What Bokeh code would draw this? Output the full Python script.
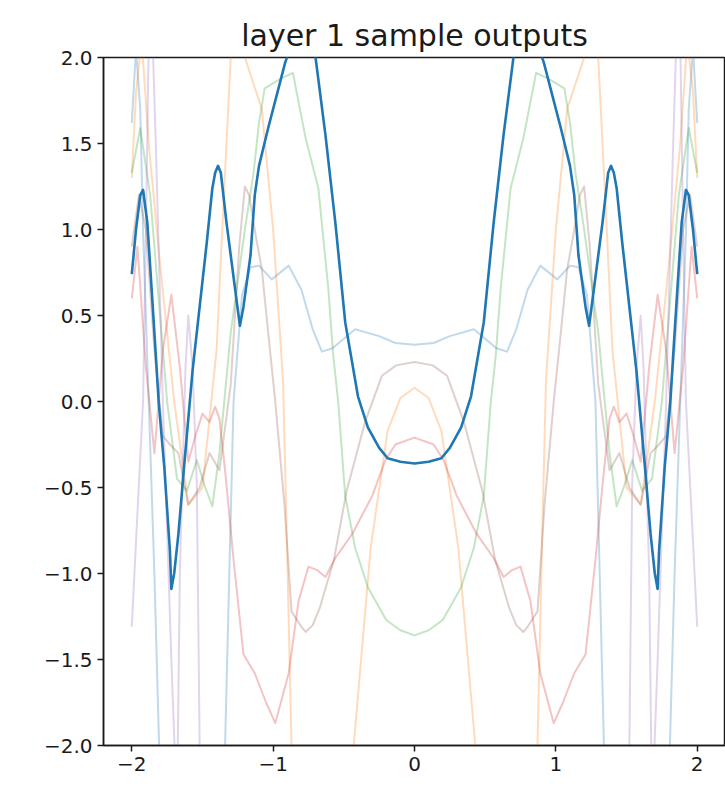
from bokeh.plotting import figure
from bokeh.models import Range1d, FixedTicker
from bokeh.embed import file_html
from bokeh.resources import INLINE

# ---- data ----
TITLE = "layer 1 sample outputs"
X_TICKS = [-2, -1, 0, 1, 2]
X_LABELS = ["\u22122", "\u22121", "0", "1", "2"]
Y_TICKS = [-2.0, -1.5, -1.0, -0.5, 0.0, 0.5, 1.0, 1.5, 2.0]
Y_LABELS = ["\u22122.0", "\u22121.5", "\u22121.0", "\u22120.5", "0.0", "0.5", "1.0", "1.5", "2.0"]

# highlighted sample (bold blue)
main_x = [-2.0, -1.97, -1.94, -1.92, -1.89, -1.86, -1.83, -1.81, -1.77, -1.73, -1.72, -1.70, -1.67, -1.63, -1.60,
          -1.57, -1.52, -1.47, -1.43, -1.41, -1.39, -1.37, -1.33, -1.27, -1.235, -1.21, -1.16, -1.13, -1.1, -1.035,
          -0.975, -0.915, -0.86, -0.8, -0.74, -0.7, -0.63, -0.56, -0.49, -0.4, -0.33, -0.25, -0.19, -0.1, 0.0,
          0.1, 0.19, 0.25, 0.33, 0.4, 0.49, 0.56, 0.63, 0.7, 0.74, 0.8, 0.86, 0.915, 0.975, 1.035, 1.1, 1.13, 1.16,
          1.21, 1.235, 1.27, 1.33, 1.37, 1.39, 1.41, 1.43, 1.47, 1.52, 1.57, 1.60, 1.63, 1.67, 1.70, 1.72, 1.73,
          1.77, 1.81, 1.83, 1.86, 1.89, 1.92, 1.94, 1.97, 2.0]
main_y = [0.74, 1.0, 1.2, 1.23, 1.04, 0.66, 0.27, 0.0, -0.38, -0.87, -1.09, -1.0, -0.77, -0.38, -0.1,
          0.18, 0.55, 0.92, 1.24, 1.33, 1.37, 1.33, 1.04, 0.66, 0.44, 0.55, 0.85, 1.2, 1.37, 1.59,
          1.78, 1.97, 2.1, 2.16, 2.1, 2.0, 1.55, 1.04, 0.46, 0.03, -0.15, -0.27, -0.33, -0.35, -0.36,
          -0.35, -0.33, -0.27, -0.15, 0.03, 0.46, 1.04, 1.55, 2.0, 2.1, 2.16, 2.1, 1.97, 1.78, 1.59, 1.37, 1.2, 0.85,
          0.55, 0.44, 0.66, 1.04, 1.33, 1.37, 1.33, 1.24, 0.92, 0.55, 0.18, -0.1, -0.38, -0.77, -1.0, -1.09, -0.87,
          -0.38, 0.0, 0.27, 0.66, 1.04, 1.23, 1.2, 1.0, 0.74]

# faint samples
blue_x = [-2.0, -1.97, -1.94, -1.92, -1.88, -1.84, -1.8, -1.6, -1.42, -1.36, -1.34, -1.31, -1.28, -1.22, -1.16,
          -1.1, -1.01, -0.89, -0.8, -0.72, -0.655, -0.58, -0.42, -0.25, -0.135, 0.0, 0.135, 0.25, 0.42, 0.58,
          0.655, 0.72, 0.8, 0.89, 1.01, 1.1, 1.16, 1.22, 1.28, 1.31, 1.34, 1.36, 1.42, 1.6, 1.8, 1.84, 1.88, 1.92,
          1.94, 1.97, 2.0]
blue_y = [1.62, 2.05, 1.7, 0.98, 0.0, -1.0, -2.2, -3.0, -3.0, -2.4, -2.0, -1.0, 0.0, 0.62, 0.78,
          0.79, 0.71, 0.79, 0.65, 0.42, 0.29, 0.31, 0.42, 0.38, 0.34, 0.33, 0.34, 0.38, 0.42, 0.31,
          0.29, 0.42, 0.65, 0.79, 0.71, 0.79, 0.78, 0.62, 0.0, -1.0, -2.0, -2.4, -3.0, -3.0, -2.2, -1.0, 0.0, 0.98,
          1.7, 2.05, 1.62]

orange_x = [-2.0, -1.97, -1.93, -1.88, -1.8, -1.7, -1.6, -1.5, -1.45, -1.4, -1.36, -1.3, -1.25, -1.2, -1.08,
            -1.0, -0.93, -0.9, -0.87, -0.8, -0.7, -0.55, -0.43, -0.31, -0.19, -0.1, 0.0,
            0.1, 0.19, 0.31, 0.43, 0.55, 0.7, 0.8, 0.87, 0.9, 0.93, 1.0, 1.08, 1.2, 1.25, 1.3, 1.36, 1.4, 1.45,
            1.5, 1.6, 1.7, 1.8, 1.88, 1.93, 1.97, 2.0]
orange_y = [1.3, 1.8, 2.1, 1.5, 0.8, 0.0, -0.6, -0.5, -0.1, 0.3, 1.0, 2.0, 2.25, 2.0, 1.7,
            1.0, 0.12, -0.9, -2.0, -2.7, -3.3, -3.0, -2.0, -0.85, -0.17, 0.02, 0.08,
            0.02, -0.17, -0.85, -2.0, -3.0, -3.3, -2.7, -2.0, -0.9, 0.12, 1.0, 1.7, 2.0, 2.25, 2.0, 1.0, 0.3, -0.1,
            -0.5, -0.6, 0.0, 0.8, 1.5, 2.1, 1.8, 1.3]

green_x = [-2.0, -1.94, -1.87, -1.8, -1.75, -1.68, -1.61, -1.54, -1.48, -1.43, -1.38, -1.3, -1.2, -1.14, -1.1,
           -1.06, -0.94, -0.86, -0.77, -0.68, -0.61, -0.575, -0.54, -0.49, -0.42, -0.33, -0.2, -0.1, 0.0,
           0.1, 0.2, 0.33, 0.42, 0.49, 0.54, 0.575, 0.61, 0.68, 0.77, 0.86, 0.94, 1.06, 1.1, 1.14, 1.2, 1.3, 1.38,
           1.43, 1.48, 1.54, 1.61, 1.68, 1.75, 1.8, 1.87, 1.94, 2.0]
green_y = [1.33, 1.59, 1.2, 0.5, 0.0, -0.45, -0.52, -0.34, -0.5, -0.61, -0.3, 0.4, 1.0, 1.32, 1.62,
           1.82, 1.88, 1.91, 1.53, 1.24, 0.66, 0.27, 0.0, -0.55, -0.85, -1.08, -1.27, -1.33, -1.36,
           -1.33, -1.27, -1.08, -0.85, -0.55, 0.0, 0.27, 0.66, 1.24, 1.53, 1.91, 1.88, 1.82, 1.62, 1.32, 1.0, 0.4, -0.3,
           -0.61, -0.5, -0.34, -0.52, -0.45, 0.0, 0.5, 1.2, 1.59, 1.33]

red_x = [-2.0, -1.96, -1.9, -1.84, -1.78, -1.72, -1.66, -1.6, -1.55, -1.5, -1.45, -1.41, -1.38, -1.34, -1.28,
         -1.21, -1.13, -1.05, -0.985, -0.89, -0.82, -0.75, -0.69, -0.63, -0.56, -0.44, -0.3, -0.205, -0.135, 0.0,
         0.135, 0.205, 0.3, 0.44, 0.56, 0.63, 0.69, 0.75, 0.82, 0.89, 0.985, 1.05, 1.13, 1.21, 1.28, 1.34, 1.38,
         1.41, 1.45, 1.5, 1.55, 1.6, 1.66, 1.72, 1.78, 1.84, 1.9, 1.96, 2.0]
red_y = [0.6, 0.9, 0.2, -0.3, 0.3, 0.62, 0.2, -0.35, -0.2, -0.07, -0.12, -0.03, -0.1, -0.4, -0.92,
         -1.47, -1.58, -1.75, -1.87, -1.58, -1.16, -0.96, -0.98, -1.02, -0.91, -0.77, -0.55, -0.34, -0.25, -0.21,
         -0.25, -0.34, -0.55, -0.77, -0.91, -1.02, -0.98, -0.96, -1.16, -1.58, -1.87, -1.75, -1.58, -1.47, -0.92, -0.4, -0.1,
         -0.03, -0.12, -0.07, -0.2, -0.35, 0.2, 0.62, 0.3, -0.3, 0.2, 0.9, 0.6]

purple_x = [-2.0, -1.96, -1.92, -1.9, -1.88, -1.86, -1.83, -1.78, -1.72, -1.68, -1.66, -1.62, -1.6, -1.57, -1.54,
            -1.52, -1.45, -1.0, -0.5, 0.0, 0.5, 1.0, 1.45, 1.52, 1.54, 1.57, 1.6, 1.62, 1.66, 1.68, 1.72, 1.78,
            1.83, 1.86, 1.88, 1.9, 1.92, 1.96, 2.0]
purple_y = [-1.31, -0.65, 0.0, 1.0, 2.1, 2.3, 1.5, 0.0, -1.5, -2.4, -1.0, 0.2, 0.5, 0.2, -0.48,
            -2.0, -3.5, -4.0, -4.0, -4.0, -4.0, -4.0, -3.5, -2.0, -0.48, 0.2, 0.5, 0.2, -1.0, -2.4, -1.5, 0.0,
            1.5, 2.3, 2.1, 1.0, 0.0, -0.65, -1.31]

brown_x = [-2.0, -1.95, -1.9, -1.84, -1.78, -1.73, -1.67, -1.6, -1.52, -1.45, -1.38, -1.3, -1.24, -1.2, -1.17,
           -1.12, -1.08, -1.035, -0.985, -0.92, -0.87, -0.8, -0.77, -0.72, -0.67, -0.57, -0.48, -0.35, -0.23, -0.13,
           0.0, 0.13, 0.23, 0.35, 0.48, 0.57, 0.67, 0.72, 0.77, 0.8, 0.87, 0.92, 0.985, 1.035, 1.08, 1.12, 1.17,
           1.2, 1.24, 1.3, 1.38, 1.45, 1.52, 1.6, 1.67, 1.73, 1.78, 1.84, 1.9, 1.95, 2.0]
brown_y = [0.9, 1.2, 1.0, 0.3, -0.2, -0.25, -0.3, -0.6, -0.5, -0.3, -0.4, 0.1, 0.9, 1.25, 1.2,
           0.95, 0.77, 0.4, 0.0, -0.6, -1.22, -1.31, -1.34, -1.3, -1.2, -0.92, -0.52, -0.12, 0.15, 0.21,
           0.23, 0.21, 0.15, -0.12, -0.52, -0.92, -1.2, -1.3, -1.34, -1.31, -1.22, -0.6, 0.0, 0.4, 0.77, 0.95, 1.2,
           1.25, 0.9, 0.1, -0.4, -0.3, -0.5, -0.6, -0.3, -0.25, -0.2, 0.3, 1.0, 1.2, 0.9]

FAINT = [
    (blue_x, blue_y, "#1f77b4"),
    (orange_x, orange_y, "#ff7f0e"),
    (green_x, green_y, "#2ca02c"),
    (red_x, red_y, "#d62728"),
    (purple_x, purple_y, "#9467bd"),
    (brown_x, brown_y, "#8c564b"),
]

FONT = "DejaVu Sans"
INK = "#1a1a1a"

p = figure(width=725, height=789, x_range=Range1d(-2.2, 2.2), y_range=Range1d(-2.0, 2.0),
           output_backend="svg", toolbar_location=None, title=TITLE,
           min_border_left=103, min_border_right=0, min_border_top=57, min_border_bottom=44)

p.title.align = "center"
p.title.text_font = FONT
p.title.text_font_size = "30px"
p.title.text_font_style = "normal"
p.title.text_color = INK
p.title.standoff = 10

p.xgrid.visible = False
p.ygrid.visible = False
p.outline_line_color = INK
p.outline_line_width = 1.5
p.background_fill_color = "white"
p.border_fill_color = "white"

for ax, ticks, labels in ((p.xaxis[0], X_TICKS, X_LABELS), (p.yaxis[0], Y_TICKS, Y_LABELS)):
    ax.ticker = FixedTicker(ticks=ticks)
    ax.major_label_overrides = {t: l for t, l in zip(ticks, labels)}
    ax.minor_tick_line_color = None
    ax.major_tick_in = 0
    ax.major_tick_out = 6
    ax.major_tick_line_width = 1.5
    ax.major_tick_line_color = INK
    ax.axis_line_color = INK
    ax.axis_line_width = 1.5
    ax.major_label_text_font = FONT
    ax.major_label_text_font_size = "20px"
    ax.major_label_text_color = INK
    ax.major_label_standoff = 5

for xs, ys, c in FAINT:
    p.line(xs, ys, line_color=c, line_alpha=0.28, line_width=2, line_join="round")

p.line(main_x, main_y, line_color="#1f77b4", line_width=2.6, line_join="round")

open("out.html", "w").write(file_html(p, INLINE))
